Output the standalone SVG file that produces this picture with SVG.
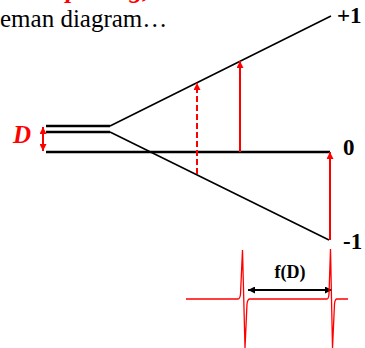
<svg xmlns="http://www.w3.org/2000/svg" width="365" height="348" viewBox="0 0 365 348">
<defs>
<style>
.thick{stroke:#000;stroke-width:2.6;fill:none}
.thin{stroke:#000;stroke-width:1.6;fill:none}
.red{stroke:#ff0000;stroke-width:2;fill:none}
.serif{font-family:'Liberation Serif','Times New Roman','DejaVu Serif',serif}
.lbl{font-weight:bold;fill:#000}
.redt{font-weight:bold;font-style:italic;fill:#ff0000}
</style>
<marker id="rh" viewBox="0 0 10 10" refX="10" refY="5" markerWidth="8" markerHeight="7" markerUnits="userSpaceOnUse" orient="auto-start-reverse">
<path d="M0,0 L10,5 L0,10 z" fill="#ff0000"/>
</marker>
<marker id="bh" viewBox="0 0 10 10" refX="10" refY="5" markerWidth="9" markerHeight="7" markerUnits="userSpaceOnUse" orient="auto-start-reverse">
<path d="M0,0 L10,5 L0,10 z" fill="#000"/>
</marker>
</defs>
<rect width="365" height="348" fill="#fff"/>
<text class="serif redt" x="56" y="-2" font-size="26">splitting,</text>
<text class="serif" x="0" y="27" font-size="25" fill="#000">eman diagram…</text>
<g id="levels">
<line class="thick" x1="46" y1="126" x2="110" y2="126"/>
<line class="thick" x1="46" y1="132" x2="110" y2="132"/>
<line class="thick" x1="46" y1="152" x2="330" y2="152"/>
<line class="thin" x1="110" y1="126" x2="331" y2="16"/>
<line class="thin" x1="110" y1="132" x2="329" y2="240"/>
</g>
<g id="labels">
<text class="serif lbl" x="337" y="23" font-size="23">+1</text>
<text class="serif lbl" x="343" y="155" font-size="23">0</text>
<text class="serif lbl" x="343" y="249" font-size="23">-1</text>
<text class="serif redt" x="13" y="143" font-size="25">D</text>
<text class="serif lbl" x="290" y="278" font-size="18" text-anchor="middle">f(D)</text>
</g>
<g id="connectors">
<line class="red" x1="43" y1="127" x2="43" y2="151" marker-start="url(#rh)" marker-end="url(#rh)"/>
<line class="red" x1="197" y1="174" x2="197" y2="83" stroke-dasharray="6,3" marker-end="url(#rh)"/>
<line class="red" x1="240" y1="152" x2="240" y2="61" marker-end="url(#rh)"/>
<line class="red" x1="330" y1="240" x2="330" y2="152" marker-end="url(#rh)"/>
<line stroke="#000" stroke-width="2" x1="248" y1="290" x2="332" y2="290" marker-start="url(#bh)" marker-end="url(#bh)"/>
</g>
<g id="signal">
<path d="M186,299 L238,299 Q240,299 240.5,294 L242.5,250 L245,348 L247,304 Q247.5,299 250,299 L327,299 Q328.5,299 329,294 L330.5,249 L332.5,348 L334.5,304 Q335,299 337,299 L348,299" stroke="#ff0000" stroke-width="1.3" fill="none"/>
</g>
</svg>
